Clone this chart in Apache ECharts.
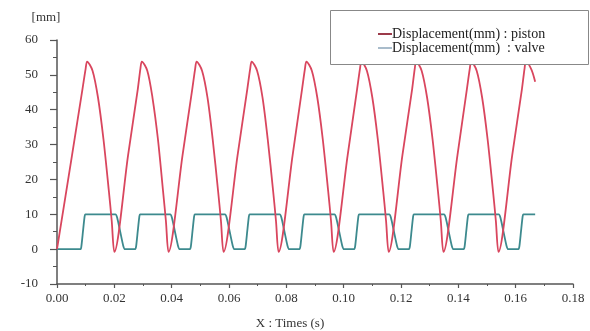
<!DOCTYPE html>
<html>
<head>
<meta charset="utf-8">
<script src="https://cdn.jsdelivr.net/npm/echarts@6/dist/echarts.min.js"></script>
<style>
  html, body { margin: 0; padding: 0; background: #fff; }
  #chart { width: 590px; height: 331px; }
</style>
</head>
<body>
<div id="chart"></div>
<script>
// 活塞位移 [t(s), mm]
const pistonData = [
  [0.0000, 0], [0.00525, 27], [0.0089, 46], [0.0100, 51.8], [0.0105, 53.8],
  [0.0124, 51.2], [0.0143, 43.5], [0.0162, 31.6], [0.0181, 16.6], [0.0191, 8.0], [0.0200, -0.8],
  [0.0248, 27], [0.0282, 46], [0.0291, 51.8], [0.0296, 53.8],
  [0.0315, 51.2], [0.0333, 43.5], [0.0352, 31.6], [0.0370, 16.6], [0.0380, 8.0], [0.0389, -0.8],
  [0.0438, 27], [0.0472, 46], [0.0482, 51.8], [0.0487, 53.8],
  [0.0506, 51.2], [0.0525, 43.5], [0.0543, 31.6], [0.0562, 16.6], [0.0572, 8.0], [0.0581, -0.8],
  [0.0630, 27], [0.0664, 46], [0.0674, 51.8], [0.0679, 53.8],
  [0.0698, 51.2], [0.0717, 43.5], [0.0735, 31.6], [0.0754, 16.6], [0.0764, 8.0], [0.0773, -0.8],
  [0.0822, 27], [0.0855, 46], [0.0865, 51.8], [0.0870, 53.8],
  [0.0889, 51.2], [0.0908, 43.5], [0.0927, 31.6], [0.0946, 16.6], [0.0956, 8.0], [0.0965, -0.8],
  [0.1014, 27], [0.1047, 46], [0.1057, 51.8], [0.1062, 53.8],
  [0.1081, 51.2], [0.1100, 43.5], [0.1119, 31.6], [0.1138, 16.6], [0.1148, 8.0], [0.1157, -0.8],
  [0.1205, 27], [0.1239, 46], [0.1248, 51.8], [0.1253, 53.8],
  [0.1272, 51.2], [0.1291, 43.5], [0.1310, 31.6], [0.1329, 16.6], [0.1339, 8.0], [0.1348, -0.8],
  [0.1397, 27], [0.1430, 46], [0.1440, 51.8], [0.1445, 53.8],
  [0.1464, 51.2], [0.1483, 43.5], [0.1502, 31.6], [0.1521, 16.6], [0.1531, 8.0], [0.1540, -0.8],
  [0.1588, 27], [0.1622, 46], [0.1631, 51.8], [0.1636, 53.8],
  [0.1655, 51.5], [0.1668, 48.0]
];

// 阀门位移 [t(s), mm]
const valveData = [
  [0.0000, 0],
  [0.0082, 0], [0.0085, 0.8], [0.00905, 5], [0.0096, 9.2], [0.0099, 10],
  [0.0204, 10], [0.0210, 9], [0.02205, 5], [0.0231, 1], [0.0237, 0],
  [0.0273, 0], [0.0276, 0.8], [0.02815, 5], [0.0287, 9.2], [0.0290, 10],
  [0.0395, 10], [0.0401, 9], [0.04115, 5], [0.0422, 1], [0.0428, 0],
  [0.0464, 0], [0.0467, 0.8], [0.04725, 5], [0.0478, 9.2], [0.0481, 10],
  [0.0586, 10], [0.0592, 9], [0.06025, 5], [0.0613, 1], [0.0619, 0],
  [0.0655, 0], [0.0658, 0.8], [0.06635, 5], [0.0669, 9.2], [0.0672, 10],
  [0.0777, 10], [0.0783, 9], [0.07935, 5], [0.0804, 1], [0.0810, 0],
  [0.0846, 0], [0.0849, 0.8], [0.08545, 5], [0.0860, 9.2], [0.0863, 10],
  [0.0968, 10], [0.0974, 9], [0.09845, 5], [0.0995, 1], [0.1001, 0],
  [0.1037, 0], [0.1040, 0.8], [0.10455, 5], [0.1051, 9.2], [0.1054, 10],
  [0.1159, 10], [0.1165, 9], [0.11755, 5], [0.1186, 1], [0.1192, 0],
  [0.1228, 0], [0.1231, 0.8], [0.12365, 5], [0.1242, 9.2], [0.1245, 10],
  [0.1350, 10], [0.1356, 9], [0.13665, 5], [0.1377, 1], [0.1383, 0],
  [0.1419, 0], [0.1422, 0.8], [0.14275, 5], [0.1433, 9.2], [0.1436, 10],
  [0.1541, 10], [0.1547, 9], [0.15575, 5], [0.1568, 1], [0.1574, 0],
  [0.1610, 0], [0.1613, 0.8], [0.16185, 5], [0.1624, 9.2], [0.1627, 10],
  [0.1668, 10]
];

const seriesNames = ["Displacement(mm) : piston", "Displacement(mm)  : valve"];

const serif = "Liberation Serif";
const axisColor = "#555";

const option = {
  backgroundColor: "#fff",
  animation: false,
  grid: { left: 57, right: 17, top: 40, bottom: 47, outerBoundsMode: "none" },
  graphic: [
    {
      type: "rect",
      left: 330,
      top: 10,
      shape: { width: 258, height: 54 },
      style: { fill: "#fff", stroke: "#888", lineWidth: 1 },
      z: 10,
    },
  ],
  legend: {
    orient: "vertical",
    left: 373,
    top: 22,
    itemGap: 0,
    itemWidth: 14,
    itemHeight: 2,
    icon: "rect",
    z: 20,
    textStyle: { fontFamily: serif, fontSize: 14, lineHeight: 13, color: "#222", padding: [0, 0, 0, -5] },
    data: [
      { name: seriesNames[0], itemStyle: { color: "#9c3a4a" } },
      { name: seriesNames[1], itemStyle: { color: "#a9bccb" } },
    ],
  },
  xAxis: {
    type: "value",
    min: 0,
    max: 0.18,
    interval: 0.02,
    name: "X : Times (s)",
    nameLocation: "middle",
    nameGap: 33,
    nameTextStyle: { fontFamily: serif, fontSize: 13, color: "#333", padding: [0, 50, 0, 0] },
    axisLine: { onZero: false, lineStyle: { color: axisColor, width: 1.5 } },
    axisTick: { show: true, length: 4, lineStyle: { color: axisColor, width: 1.2 } },
    minorTick: { show: true, splitNumber: 2, length: 2, lineStyle: { color: axisColor } },
    splitLine: { show: false },
    axisLabel: {
      margin: 8,
      fontFamily: serif,
      fontSize: 13,
      color: "#333",
      formatter: (v) => v.toFixed(2),
    },
  },
  yAxis: {
    type: "value",
    min: -10,
    max: 60,
    interval: 10,
    name: "[mm]",
    nameLocation: "end",
    nameGap: 16,
    nameTextStyle: { fontFamily: serif, fontSize: 13, color: "#333", align: "center", padding: [0, 22, 0, 0] },
    axisLine: { show: true, lineStyle: { color: axisColor, width: 1.5 } },
    axisTick: { show: true, length: 7, lineStyle: { color: axisColor, width: 1.2 } },
    minorTick: { show: true, splitNumber: 2, length: 4, lineStyle: { color: axisColor } },
    splitLine: { show: false },
    axisLabel: { margin: 19, fontFamily: serif, fontSize: 13, color: "#333" },
  },
  series: [
    {
      name: seriesNames[0],
      type: "line",
      data: pistonData,
      showSymbol: false,
      smooth: 0.3,
      lineStyle: { color: "#d9465e", width: 1.8 },
      itemStyle: { color: "#d9465e" },
      z: 3,
    },
    {
      name: seriesNames[1],
      type: "line",
      data: valveData,
      showSymbol: false,
      smooth: 0.2,
      lineStyle: { color: "#3d8a8e", width: 1.8 },
      itemStyle: { color: "#3d8a8e" },
      z: 2,
    },
  ],
};

const myChart = echarts.init(document.getElementById("chart"));
myChart.setOption(option);
</script>
</body>
</html>
